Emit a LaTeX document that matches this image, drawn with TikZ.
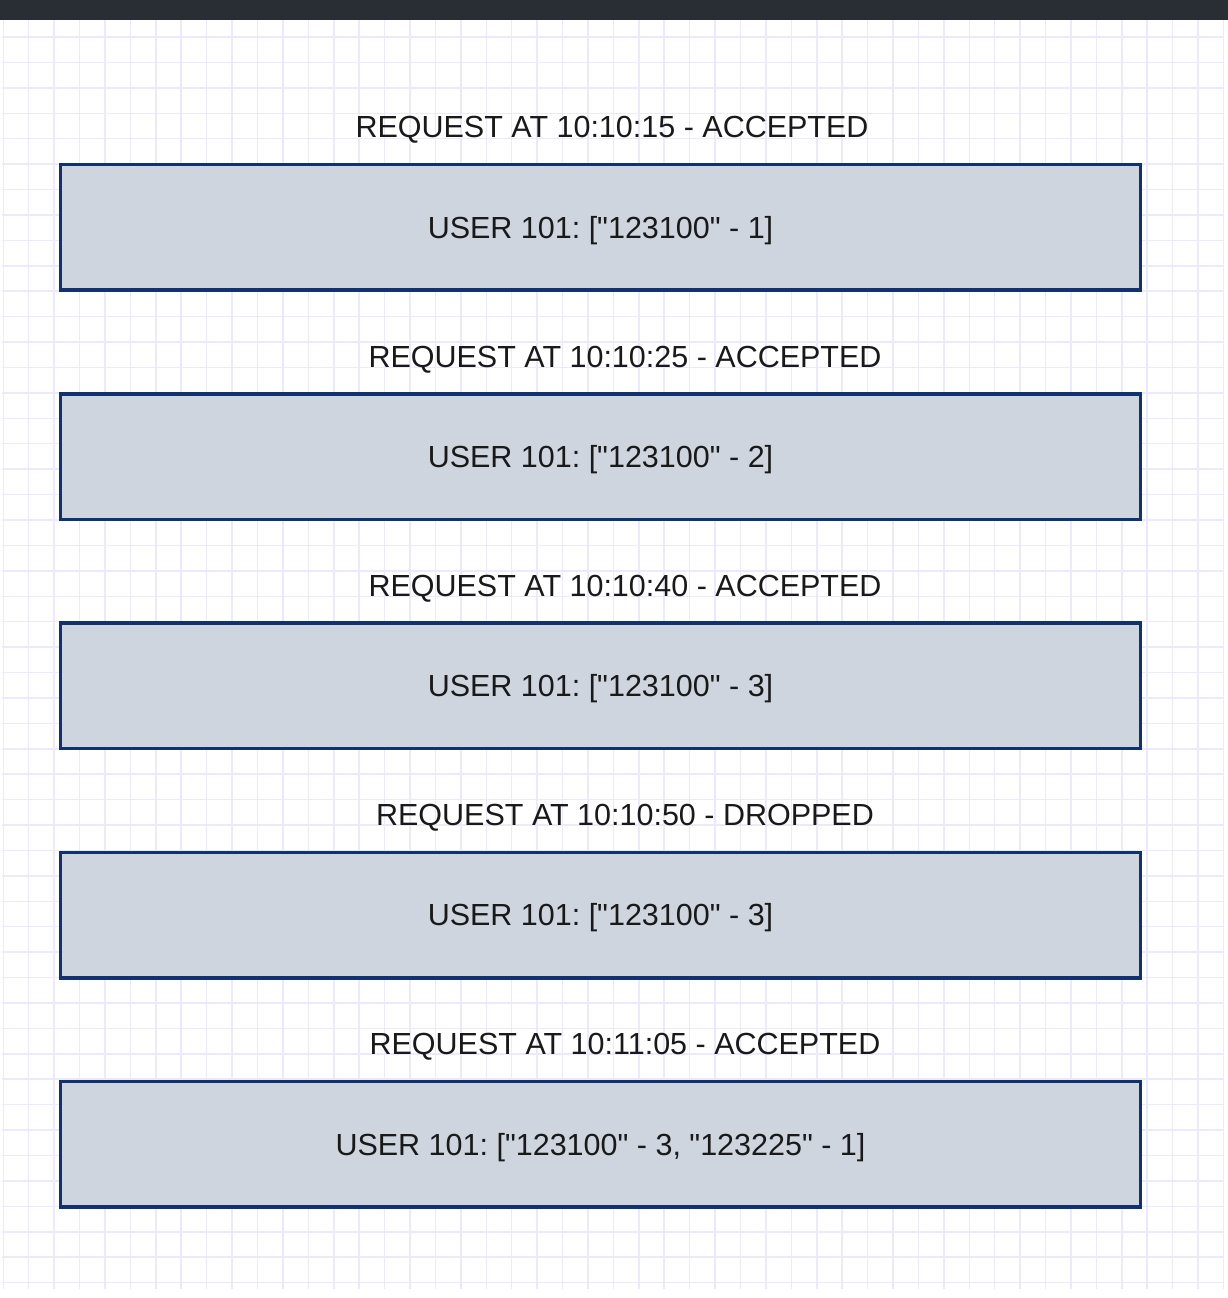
\documentclass[tikz,border=0pt]{standalone}
\usepackage{fontspec}
\setmainfont{Liberation Sans}[Ligatures=TeXOff]
\frenchspacing
\usetikzlibrary{positioning}
\definecolor{boxfill}{RGB}{206,213,223}
\definecolor{boxborder}{RGB}{16,50,110}
\definecolor{gridline}{RGB}{234,234,252}
\definecolor{topbar}{RGB}{41,46,53}
\tikzstyle{userbox}=[draw=boxborder,fill=boxfill,line width=3.5pt,
  minimum width=1080pt,minimum height=125.5pt,inner sep=0pt,
  text height=21.5pt,text depth=0pt,text=black!90,font=\fontsize{30.5}{33}\selectfont]
\tikzstyle{reqlabel}=[inner sep=0pt,text height=21.5pt,text depth=0pt,
  text=black!90,font=\fontsize{30.5}{33}\selectfont]
\begin{document}
\begin{tikzpicture}[x=1pt,y=1pt,node distance=100.25pt]
    \useasboundingbox (0,0) rectangle (1228,1298);
    \fill[white] (0,0) rectangle (1228,1298);
    % background grid
    \foreach \k in {0,...,48}
        \draw[gridline,line width=1.5pt] (3.3+25.42*\k,9) -- (3.3+25.42*\k,1278);
    \foreach \k in {1,...,50}
        \draw[gridline,line width=1.5pt] (2,1286.4-25.42*\k) -- (1224,1286.4-25.42*\k);
    \fill[topbar] (0,1278) rectangle (1228,1298);
    
    \node[userbox] (U1) at (600.5,1070.5) {USER 101: ["123100" - 1]};
    \node[userbox] (U2) [below=of U1] {USER 101: ["123100" - 2]};
    \node[userbox] (U3) [below=of U2] {USER 101: ["123100" - 3]};
    \node[userbox] (U4) [below=of U3] {USER 101: ["123100" - 3]};
    \node[userbox] (U5) [below=of U4] {USER 101: ["123100" - 3, "123225" - 1]};
    
    \node[reqlabel] (R1) [above=25pt of U1,xshift=11.5pt] {REQUEST AT 10:10:15 - ACCEPTED};
    \node[reqlabel] (R2) [above=25pt of U2,xshift=24.5pt] {REQUEST AT 10:10:25 - ACCEPTED};
    \node[reqlabel] (R3) [above=25pt of U3,xshift=24.5pt] {REQUEST AT 10:10:40 - ACCEPTED};
    \node[reqlabel] (R4) [above=25pt of U4,xshift=24.5pt] {REQUEST AT 10:10:50 - DROPPED};
    \node[reqlabel] (R5) [above=25pt of U5,xshift=24.5pt] {REQUEST AT 10:11:05 - ACCEPTED};
    
\end{tikzpicture}
\end{document}
